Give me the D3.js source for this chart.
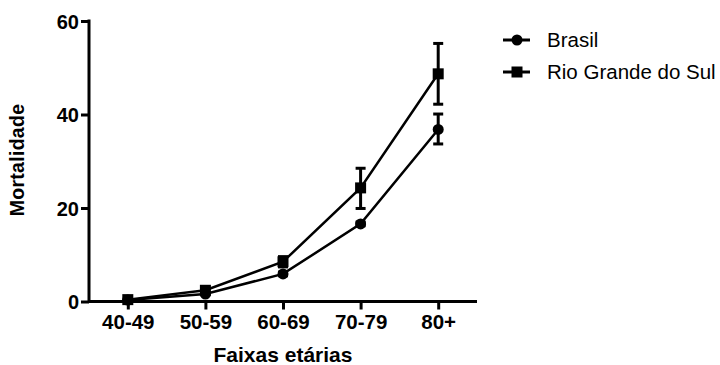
<!DOCTYPE html>
<html>
<head>
<meta charset="utf-8">
<script src="https://cdn.jsdelivr.net/npm/d3@7"></script>
<style>
  body { margin: 0; background: #fff; }
  svg { display: block; font-family: "Liberation Sans", Arial, sans-serif; }
</style>
</head>
<body>
<svg id="chart" width="720" height="365"></svg>
<script>
// age groups
var faixas = ["40-49", "50-59", "60-69", "70-79", "80+"];

// Brasil: mean and error bar limits
var brasil = [0.3, 1.6, 5.9, 16.6, 36.8];
var brasilLow = [0.2, 1.4, 5.5, 16.2, 33.7];
var brasilHigh = [0.4, 1.8, 6.3, 17.0, 40.1];

// Rio Grande do Sul
var rgs = [0.4, 2.4, 8.5, 24.3, 48.7];
var rgsLow = [0.2, 1.9, 7.4, 19.9, 42.2];
var rgsHigh = [0.6, 2.9, 9.6, 28.5, 55.2];

var yTicks = [0, 20, 40, 60];

var svg = d3.select("#chart");

var x = d3.scalePoint().domain(faixas).range([89, 477]).padding(0.5);
var y = d3.scaleLinear().domain([0, 60]).range([301.5, 21]);

// axes
var xAxis = svg.append("g")
  .attr("transform", "translate(0,301.5)")
  .call(d3.axisBottom(x).tickSize(8).tickPadding(5).tickSizeOuter(0));
var yAxis = svg.append("g")
  .attr("transform", "translate(89,0)")
  .call(d3.axisLeft(y).tickValues(yTicks).tickSize(8).tickPadding(2).tickSizeOuter(0));

[xAxis, yAxis].forEach(function(a) {
  a.selectAll("path, line").attr("stroke", "#000").attr("stroke-width", 3);
  a.selectAll("text").attr("fill", "#000").style("font-weight", "bold");
});
xAxis.select(".domain").attr("d", "M89,0H477");
yAxis.select(".domain").attr("d", "M0,301.5V19.5");
xAxis.selectAll("text").style("font-size", "20.5px").attr("dy", "0.72em");
yAxis.selectAll("text").style("font-size", "20px").attr("dy", "0.35em");

// titles
svg.append("text")
  .attr("x", 283).attr("y", 361.5)
  .attr("text-anchor", "middle")
  .style("font-size", "21px").style("font-weight", "bold")
  .text("Faixas etárias");
svg.append("text")
  .attr("transform", "translate(24,160) rotate(-90)")
  .attr("text-anchor", "middle")
  .style("font-size", "19.5px").style("font-weight", "bold")
  .style("letter-spacing", "0.3px")
  .text("Mortalidade");

var line = d3.line()
  .x(function(d, i) { return x(faixas[i]); })
  .y(function(d) { return y(d); });

function drawSeries(vals, lo, hi, shape) {
  var g = svg.append("g");
  g.append("path")
    .attr("d", line(vals))
    .attr("fill", "none").attr("stroke", "#000").attr("stroke-width", 2.5);
  vals.forEach(function(v, i) {
    var cx = x(faixas[i]);
    g.append("line")
      .attr("x1", cx).attr("x2", cx)
      .attr("y1", y(lo[i])).attr("y2", y(hi[i]))
      .attr("stroke", "#000").attr("stroke-width", 3);
    [lo[i], hi[i]].forEach(function(e) {
      g.append("line")
        .attr("x1", cx - 5).attr("x2", cx + 5)
        .attr("y1", y(e)).attr("y2", y(e))
        .attr("stroke", "#000").attr("stroke-width", 3);
    });
    if (shape === "circle") {
      g.append("circle").attr("cx", cx).attr("cy", y(v)).attr("r", 5.5).attr("fill", "#000");
    } else {
      g.append("rect").attr("x", cx - 5.5).attr("y", y(v) - 5.5)
        .attr("width", 11).attr("height", 11).attr("fill", "#000");
    }
  });
}

drawSeries(brasil, brasilLow, brasilHigh, "circle");
drawSeries(rgs, rgsLow, rgsHigh, "square");

// legend
var legend = [
  { name: "Brasil", shape: "circle" },
  { name: "Rio Grande do Sul", shape: "square" }
];
legend.forEach(function(d, i) {
  var ly = 40 + i * 32;
  svg.append("line").attr("x1", 503).attr("x2", 530).attr("y1", ly).attr("y2", ly)
    .attr("stroke", "#000").attr("stroke-width", 3);
  if (d.shape === "circle") {
    svg.append("circle").attr("cx", 517).attr("cy", ly).attr("r", 5.5).attr("fill", "#000");
  } else {
    svg.append("rect").attr("x", 511.5).attr("y", ly - 5.5).attr("width", 11).attr("height", 11).attr("fill", "#000");
  }
  svg.append("text").attr("x", 547).attr("y", ly).attr("dy", "0.36em")
    .style("font-size", "20.5px").attr("fill", "#000")
    .text(d.name);
});
</script>
</body>
</html>
